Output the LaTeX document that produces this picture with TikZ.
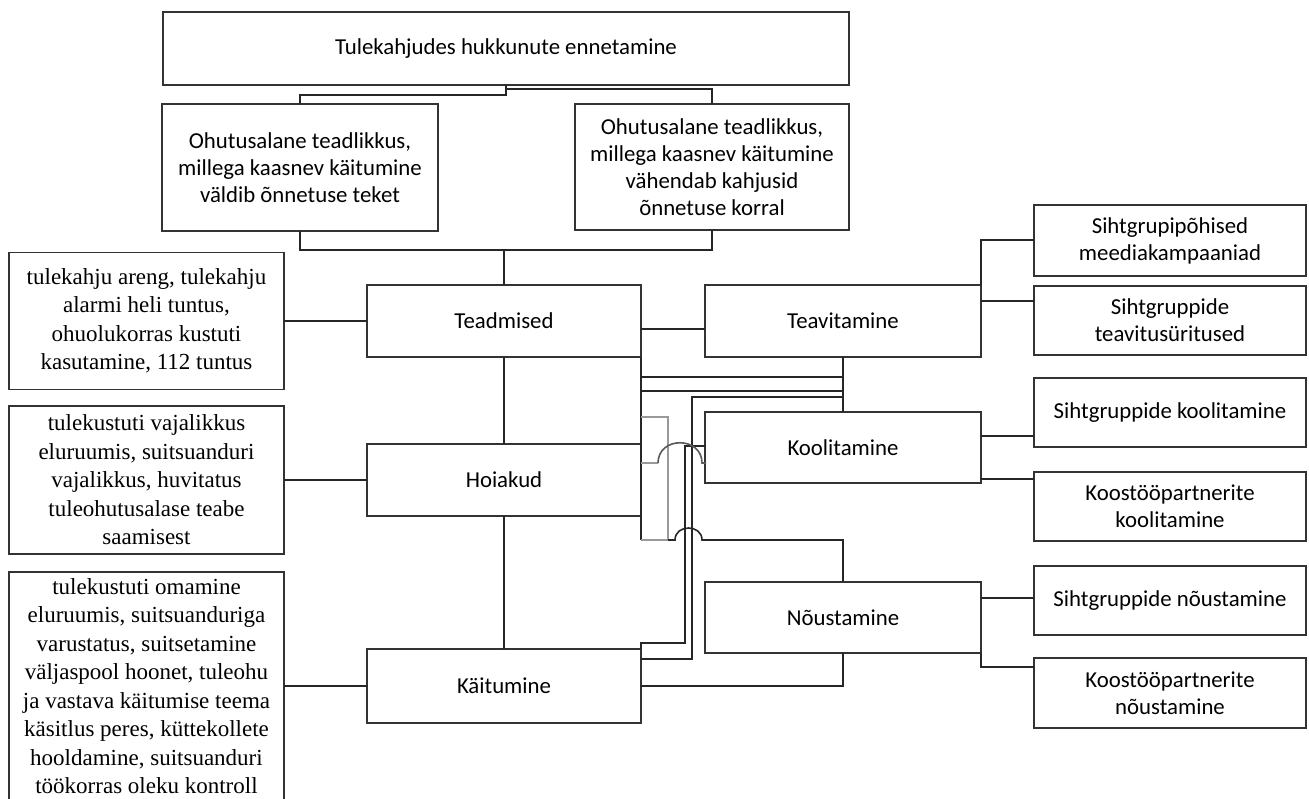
\documentclass[tikz,border=0pt]{standalone}
\usepackage{fontspec}
\setmainfont{Liberation Serif}
\newfontfamily\carl{Carlito}
\begin{document}
\begin{tikzpicture}[x=1pt, y=-1pt,
  box/.style={draw=black!80, line width=1.6pt, inner sep=0pt, outer sep=0pt, align=center, text=black},
  sans/.style={box, font=\carl\fontsize{22.8}{27}\selectfont},
  serif/.style={box, font=\fontsize{23}{28.5}\selectfont},
  wire/.style={draw=black!85, line width=1.6pt},
  faint/.style={draw=black!40, line width=1.6pt}]
\fill[white] (0,0) rectangle (1309,798);
\useasboundingbox (0,0) rectangle (1309,798);

% goal and the two kinds of awareness
\node[sans, minimum width=686pt, minimum height=73pt] (goal) at (506,48.5) {Tulekahjudes hukkunute ennetamine};
\node[sans, minimum width=276pt, minimum height=127pt] (aw1) at (300,167.5)
  {Ohutusalane teadlikkus,\\ millega kaasnev käitumine\\ väldib õnnetuse teket};
\node[sans, minimum width=274pt, minimum height=126pt] (aw2) at (712,167)
  {Ohutusalane teadlikkus,\\ millega kaasnev käitumine\\ vähendab kahjusid\\ õnnetuse korral};

% explanations on the left
\node[serif, minimum width=275pt, minimum height=137pt] (ex1) at (146.5,321)
  {tulekahju areng, tulekahju\\ alarmi heli tuntus,\\ ohuolukorras kustuti\\ kasutamine, 112 tuntus};
\node[serif, minimum width=275pt, minimum height=148pt] (ex2) at (146.5,480)
  {tulekustuti vajalikkus\\ eluruumis, suitsuanduri\\ vajalikkus, huvitatus\\ tuleohutusalase teabe\\ saamisest};
\node[serif, minimum width=275pt, minimum height=228pt] (ex3) at (146.5,686)
  {tulekustuti omamine\\ eluruumis, suitsuanduriga\\ varustatus, suitsetamine\\ väljaspool hoonet, tuleohu\\ ja vastava käitumise teema\\ käsitlus peres, küttekollete\\ hooldamine, suitsuanduri\\ töökorras oleku kontroll};

% components
\node[sans, minimum width=274pt, minimum height=72pt] (td) at (504,321) {Teadmised};
\node[sans, minimum width=274pt, minimum height=72pt] (ho) at (504,480) {Hoiakud};
\node[sans, minimum width=274pt, minimum height=74pt] (ka) at (504,686) {Käitumine};

% activities
\node[sans, minimum width=276pt, minimum height=72pt] (tv) at (843,321) {Teavitamine};
\node[sans, minimum width=276pt, minimum height=71pt] (ko) at (843,447.5) {Koolitamine};
\node[sans, minimum width=276pt, minimum height=71pt] (no) at (843,617.5) {Nõustamine};

% target activities on the right
\node[sans, minimum width=272pt, minimum height=71pt] (r1) at (1170,240.5) {Sihtgrupipõhised\\ meediakampaaniad};
\node[sans, minimum width=272pt, minimum height=69pt] (r2) at (1170,320.5) {Sihtgruppide\\ teavitusüritused};
\node[sans, minimum width=272pt, minimum height=69pt] (r3) at (1170,412.5) {Sihtgruppide koolitamine};
\node[sans, minimum width=272pt, minimum height=69pt] (r4) at (1170,506.5) {Koostööpartnerite\\ koolitamine};
\node[sans, minimum width=272pt, minimum height=69pt] (r5) at (1170,600.5) {Sihtgruppide nõustamine};
\node[sans, minimum width=272pt, minimum height=70pt] (r6) at (1170,693) {Koostööpartnerite\\ nõustamine};

% junction points
\coordinate (gl) at (506,95);
\coordinate (gr) at (506,89);
\coordinate (aj) at (504,250);
\coordinate (tt) at (641,329);
\coordinate (t2) at (981,301);
\coordinate (t1) at (981,240);
\coordinate (k1) at (981,436);
\coordinate (k2) at (981,479);
\coordinate (n1) at (981,598);
\coordinate (n2) at (981,667);

% upper tree
\draw[wire] (goal.south) -- (gl) -| (aw1.north);
\draw[wire] (gr) -| (aw2.north);
\draw[wire] (aw1.south) |- (aj) -| (aw2.south);
\draw[wire] (aj) -- (td.north);

% component column
\draw[wire] (td.south) -- (ho.north);
\draw[wire] (ho.south) -- (ka.north);
\draw[wire] (ex1.east) -- (td.west);
\draw[wire] (ex2.east) -- (ho.west);
\draw[wire] (ex3.east) -- (ka.west);

% activity fan-outs
\draw[wire] (tt) -- (tt -| tv.west);
\draw[wire] (tv.north east) -- (t1) -- (t1 -| r1.west);
\draw[wire] (t2) -- (t2 -| r2.west);
\draw[wire] (k1) -- (k1 -| r3.west);
\draw[wire] (k2) -- (k2 -| r4.west);
\draw[wire] (n1) -- (n1 -| r5.west);
\draw[wire] (no.south east) -- (n2) -- (n2 -| r6.west);

% wiring between components and activities
\draw[wire] (tv.south) -- (ko.north);
\draw[wire] (td.south east) -- (641,540);
\draw[wire] (641,377) -- (843,377);
\draw[wire] (641,391) -- (843,391);
\draw[wire] (843,397) -- (692,397) -- (692,659) -- (641,659);
\draw[wire] (706,446) -- (685,446) -- (685,643) -- (641,643) -- (ka.north east);
\draw[wire] (ka.east) -| (no.south);
\draw[faint] (641,417) -- (668,417) -- (668,540);
\draw[faint] (641,540) -- (668,540);
\draw[wire] (668,540) -- (675,540) .. controls (675,524) and (702,524) .. (702,540) -| (no.north);
\draw[faint] (641,463) -- (658,463);
\draw[wire, draw=black!65] (658,463) .. controls (658,436) and (702,436) .. (702,463) -- (706,463);
\end{tikzpicture}
\end{document}
